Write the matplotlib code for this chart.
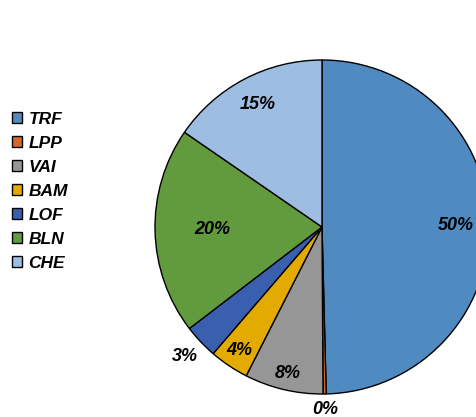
import numpy as np
import matplotlib.pyplot as plt

# categorie e quote
categorie = ['TRF', 'LPP', 'VAI', 'BAM', 'LOF', 'BLN', 'CHE']
quote = [49.6, 0.3, 7.6, 3.8, 3.3, 20.0, 15.4]
colori = ['#4F8BC0', '#D2692A', '#969696', '#E3AA00', '#3A5FAF', '#629A3E', '#9DBDE2']
# distanza delle etichette dal centro (in raggi)
dist_etichette = [0.80, 1.09, 0.90, 0.89, 1.13, 0.66, 0.83]

plt.rcParams['font.family'] = ['Liberation Sans', 'DejaVu Sans']

fig = plt.figure(figsize=(4.76, 4.17), dpi=100)
ax = fig.add_axes([155/476, 23/417, 334/476, 334/417])

wedges, _ = ax.pie(quote, colors=colori, startangle=90, counterclock=False,
                   wedgeprops={'edgecolor': 'black', 'linewidth': 1.0})
ax.set_xlim(-1, 1)
ax.set_ylim(-1, 1)
ax.set_aspect('equal')

for w, q, d in zip(wedges, quote, dist_etichette):
    ang = np.deg2rad((w.theta1 + w.theta2) / 2)
    ax.text(d*np.cos(ang), d*np.sin(ang), '%d%%' % round(q), ha='center', va='center',
            fontsize=13, fontweight='bold', fontstyle='italic', clip_on=False)

fig.legend(wedges, categorie, loc='upper left', bbox_to_anchor=(-0.008, 0.77),
           frameon=False, handlelength=0.6, handleheight=0.6, handletextpad=0.35,
           labelspacing=0.52, prop={'size': 12.5, 'weight': 'bold', 'style': 'italic'})

fig.savefig('out.png')
